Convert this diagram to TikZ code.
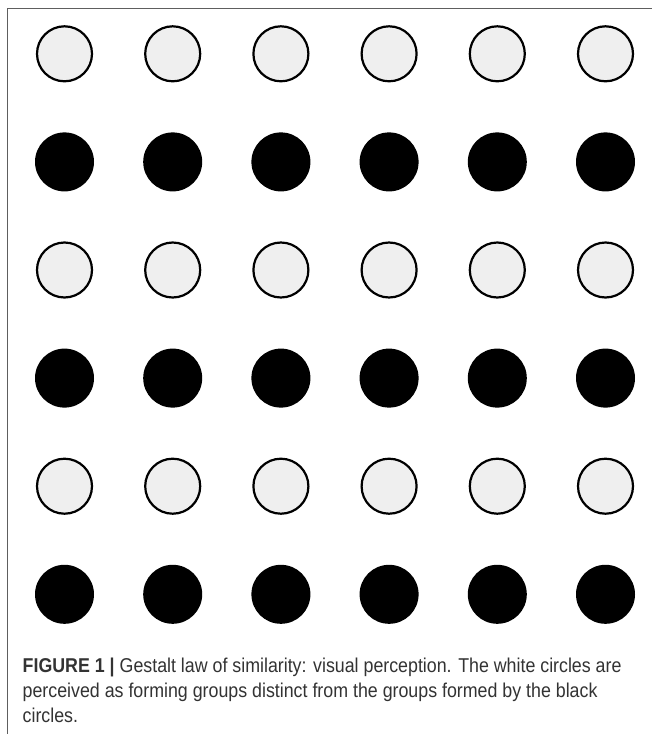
\documentclass[tikz,border=0pt]{standalone}
\usepackage{fontspec}
\setmainfont{Liberation Sans}
\newfontfamily\capfont[FakeStretch=0.89]{Liberation Sans}
\definecolor{framegray}{HTML}{5E5E5E}
\definecolor{lightfill}{HTML}{EFEFEF}
\definecolor{captext}{HTML}{333333}
\begin{document}
\begin{tikzpicture}[x=1pt,y=-1pt,
  whitedot/.style={circle,draw=black,line width=2.2pt,fill=lightfill,minimum size=55pt,inner sep=0pt},
  blackdot/.style={circle,fill=black,draw=none,minimum size=59pt,inner sep=0pt},
  frameline/.style={draw=framegray,line width=1.6pt},
  captionstyle/.style={anchor=base west,inner sep=0pt,align=left,text=captext,font=\capfont\fontsize{20}{25}\selectfont}]
\useasboundingbox (0,0) rectangle (652,734);
\fill[white] (0,0) rectangle (652,734);
\coordinate (tl) at (7.5,8.3);
\coordinate (tr) at (652,8.3);
\coordinate (bl) at (7.5,734);
\draw[frameline] (tr) -- (tl) -- (bl);
\foreach \r in {0,...,5}{
  \foreach \c in {0,...,5}{
    \pgfmathsetmacro{\cx}{64.5+108.2*\c}
    \pgfmathsetmacro{\cy}{53.8+108.1*\r}
    \pgfmathparse{int(mod(\r,2))}
    \ifnum\pgfmathresult=0
      \node[whitedot] (c-\r-\c) at (\cx,\cy) {};
    \else
      \node[blackdot] (c-\r-\c) at (\cx,\cy) {};
    \fi
  }
}
\node[captionstyle] (caption) at (22.5,722) {\textbf{FIGURE 1 |} Gestalt law of similarity: visual perception. The white circles are\\perceived as forming groups distinct from the groups formed by the black\\circles.};
\end{tikzpicture}
\end{document}
